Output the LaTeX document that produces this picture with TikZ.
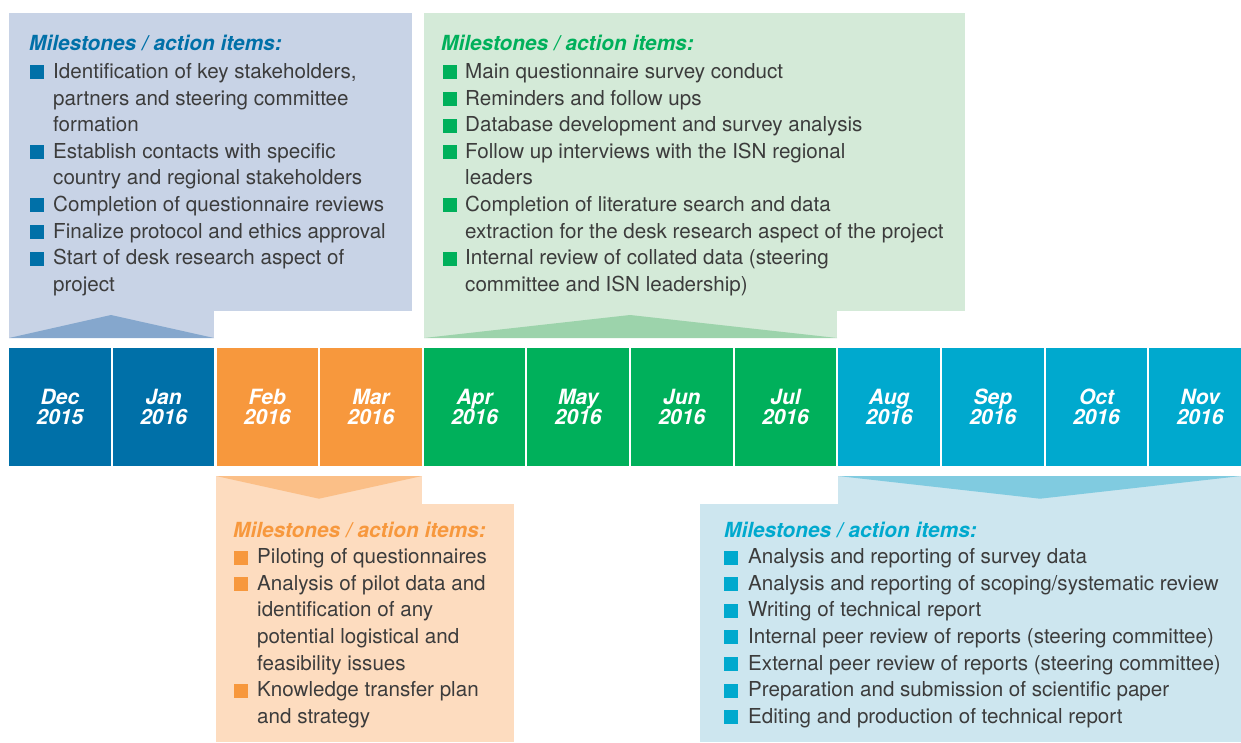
\documentclass[tikz,border=0pt]{standalone}
\usepackage{fontspec}
\setmainfont{TeX Gyre Heros}
\definecolor{blueD}{HTML}{0070A8}
\definecolor{bluePale}{HTML}{C8D3E6}
\definecolor{blueTri}{HTML}{85A7CD}
\definecolor{orangeD}{HTML}{F7983D}
\definecolor{orangePale}{HTML}{FDDCBF}
\definecolor{orangeTri}{HTML}{FBBF87}
\definecolor{greenD}{HTML}{00B05B}
\definecolor{greenPale}{HTML}{D4EAD8}
\definecolor{greenTri}{HTML}{9CD3AB}
\definecolor{cyanD}{HTML}{00A9CE}
\definecolor{cyanPale}{HTML}{CDE6EF}
\definecolor{cyanTri}{HTML}{80CBE0}
\definecolor{txtgray}{HTML}{3C3C3C}
\newcommand\bul[3]{\fill[#1] (#2,#3-13) rectangle (#2+14,#3+1);}
\begin{document}
\begin{tikzpicture}[x=1pt,y=-1pt,
  body/.style={anchor=base west, inner sep=0pt, text=txtgray, font=\fontsize{20.6}{24}\selectfont},
  ttl/.style={anchor=base west, inner sep=0pt, font=\fontsize{20.8}{24}\selectfont\bfseries\itshape},
  cell/.style={anchor=north west, inner sep=0pt, minimum width=101.6pt, minimum height=117.7pt, align=center, text=white, font=\fontsize{21}{20}\selectfont\bfseries\itshape},
]
\useasboundingbox (0,0) rectangle (1241,743);

% ---------- timeline cells ----------
\foreach \m/\yr/\c [count=\i from 0] in {Dec/2015/blueD, Jan/2016/blueD, Feb/2016/orangeD, Mar/2016/orangeD, Apr/2016/greenD, May/2016/greenD, Jun/2016/greenD, Jul/2016/greenD, Aug/2016/cyanD, Sep/2016/cyanD, Oct/2016/cyanD, Nov/2016/cyanD}
  \node[cell, fill=\c] (m\i) at (9+\i*103.65,348) {\m\\\yr};

% ---------- box 1 (blue) ----------
\fill[bluePale] (9,12.7) rectangle (412,310.5);
\fill[bluePale] (9,310) rectangle (214,338);
\fill[blueTri] (9,338) -- (111,315) -- (214,338) -- cycle;
\node[ttl, text=blueD] (t1) at (29,50.5) {Milestones / action items:};
\bul{blueD}{30}{78.5}
\node[body] (a1) at (53,78.5) {Identification of key stakeholders,};
\node[body] (a2) at (53,105.1) {partners and steering committee};
\node[body] (a3) at (53,131.7) {formation};
\bul{blueD}{30}{158.3}
\node[body] (a4) at (53,158.3) {Establish contacts with specific};
\node[body] (a5) at (53,184.9) {country and regional stakeholders};
\bul{blueD}{30}{211.5}
\node[body] (a6) at (53,211.5) {Completion of questionnaire reviews};
\bul{blueD}{30}{238.1}
\node[body] (a7) at (53,238.1) {Finalize protocol and ethics approval};
\bul{blueD}{30}{264.7}
\node[body] (a8) at (53,264.7) {Start of desk research aspect of};
\node[body] (a9) at (53,291.3) {project};

% ---------- box 2 (green) ----------
\fill[greenPale] (424,12.7) rectangle (965,310.5);
\fill[greenPale] (424,310) rectangle (837,338);
\fill[greenTri] (424,338) -- (630,315) -- (837,338) -- cycle;
\node[ttl, text=greenD] (t2) at (441,50.5) {Milestones / action items:};
\bul{greenD}{443}{78.5}
\node[body] (g1) at (465,78.5) {Main questionnaire survey conduct};
\bul{greenD}{443}{105.1}
\node[body] (g2) at (465,105.1) {Reminders and follow ups};
\bul{greenD}{443}{131.7}
\node[body] (g3) at (465,131.7) {Database development and survey analysis};
\bul{greenD}{443}{158.3}
\node[body] (g4) at (465,158.3) {Follow up interviews with the ISN regional};
\node[body] (g5) at (465,184.9) {leaders};
\bul{greenD}{443}{211.5}
\node[body] (g6) at (465,211.5) {Completion of literature search and data};
\node[body] (g7) at (465,238.1) {extraction for the desk research aspect of the project};
\bul{greenD}{443}{264.7}
\node[body] (g8) at (465,264.7) {Internal review of collated data (steering};
\node[body] (g9) at (465,291.3) {committee and ISN leadership)};

% ---------- box 3 (orange) ----------
\fill[orangePale] (216,476) rectangle (422,504);
\fill[orangePale] (216,503.5) rectangle (514,742);
\fill[orangeTri] (216,476) -- (319,498.7) -- (422,476) -- cycle;
\node[ttl, text=orangeD] (t3) at (233,537) {Milestones / action items:};
\bul{orangeD}{234}{563.6}
\node[body] (o1) at (257,563.6) {Piloting of questionnaires};
\bul{orangeD}{234}{590.2}
\node[body] (o2) at (257,590.2) {Analysis of pilot data and};
\node[body] (o3) at (257,616.8) {identification of any};
\node[body] (o4) at (257,643.4) {potential logistical and};
\node[body] (o5) at (257,670) {feasibility issues};
\bul{orangeD}{234}{696.6}
\node[body] (o6) at (257,696.6) {Knowledge transfer plan};
\node[body] (o7) at (257,723.2) {and strategy};

% ---------- box 4 (cyan) ----------
\fill[cyanPale] (838,476) rectangle (1241,504);
\fill[cyanPale] (700,503.5) rectangle (1241,742);
\fill[cyanTri] (838,476) -- (1040,498.7) -- (1241,476) -- cycle;
\node[ttl, text=cyanD] (t4) at (724,537) {Milestones / action items:};
\bul{cyanD}{724}{563.6}
\node[body] (c1) at (748,563.6) {Analysis and reporting of survey data};
\bul{cyanD}{724}{590.2}
\node[body] (c2) at (748,590.2) {Analysis and reporting of scoping/systematic review};
\bul{cyanD}{724}{616.8}
\node[body] (c3) at (748,616.8) {Writing of technical report};
\bul{cyanD}{724}{643.4}
\node[body] (c4) at (748,643.4) {Internal peer review of reports (steering committee)};
\bul{cyanD}{724}{670}
\node[body] (c5) at (748,670) {External peer review of reports (steering committee)};
\bul{cyanD}{724}{696.6}
\node[body] (c6) at (748,696.6) {Preparation and submission of scientific paper};
\bul{cyanD}{724}{723.2}
\node[body] (c7) at (748,723.2) {Editing and production of technical report};
\end{tikzpicture}
\end{document}
